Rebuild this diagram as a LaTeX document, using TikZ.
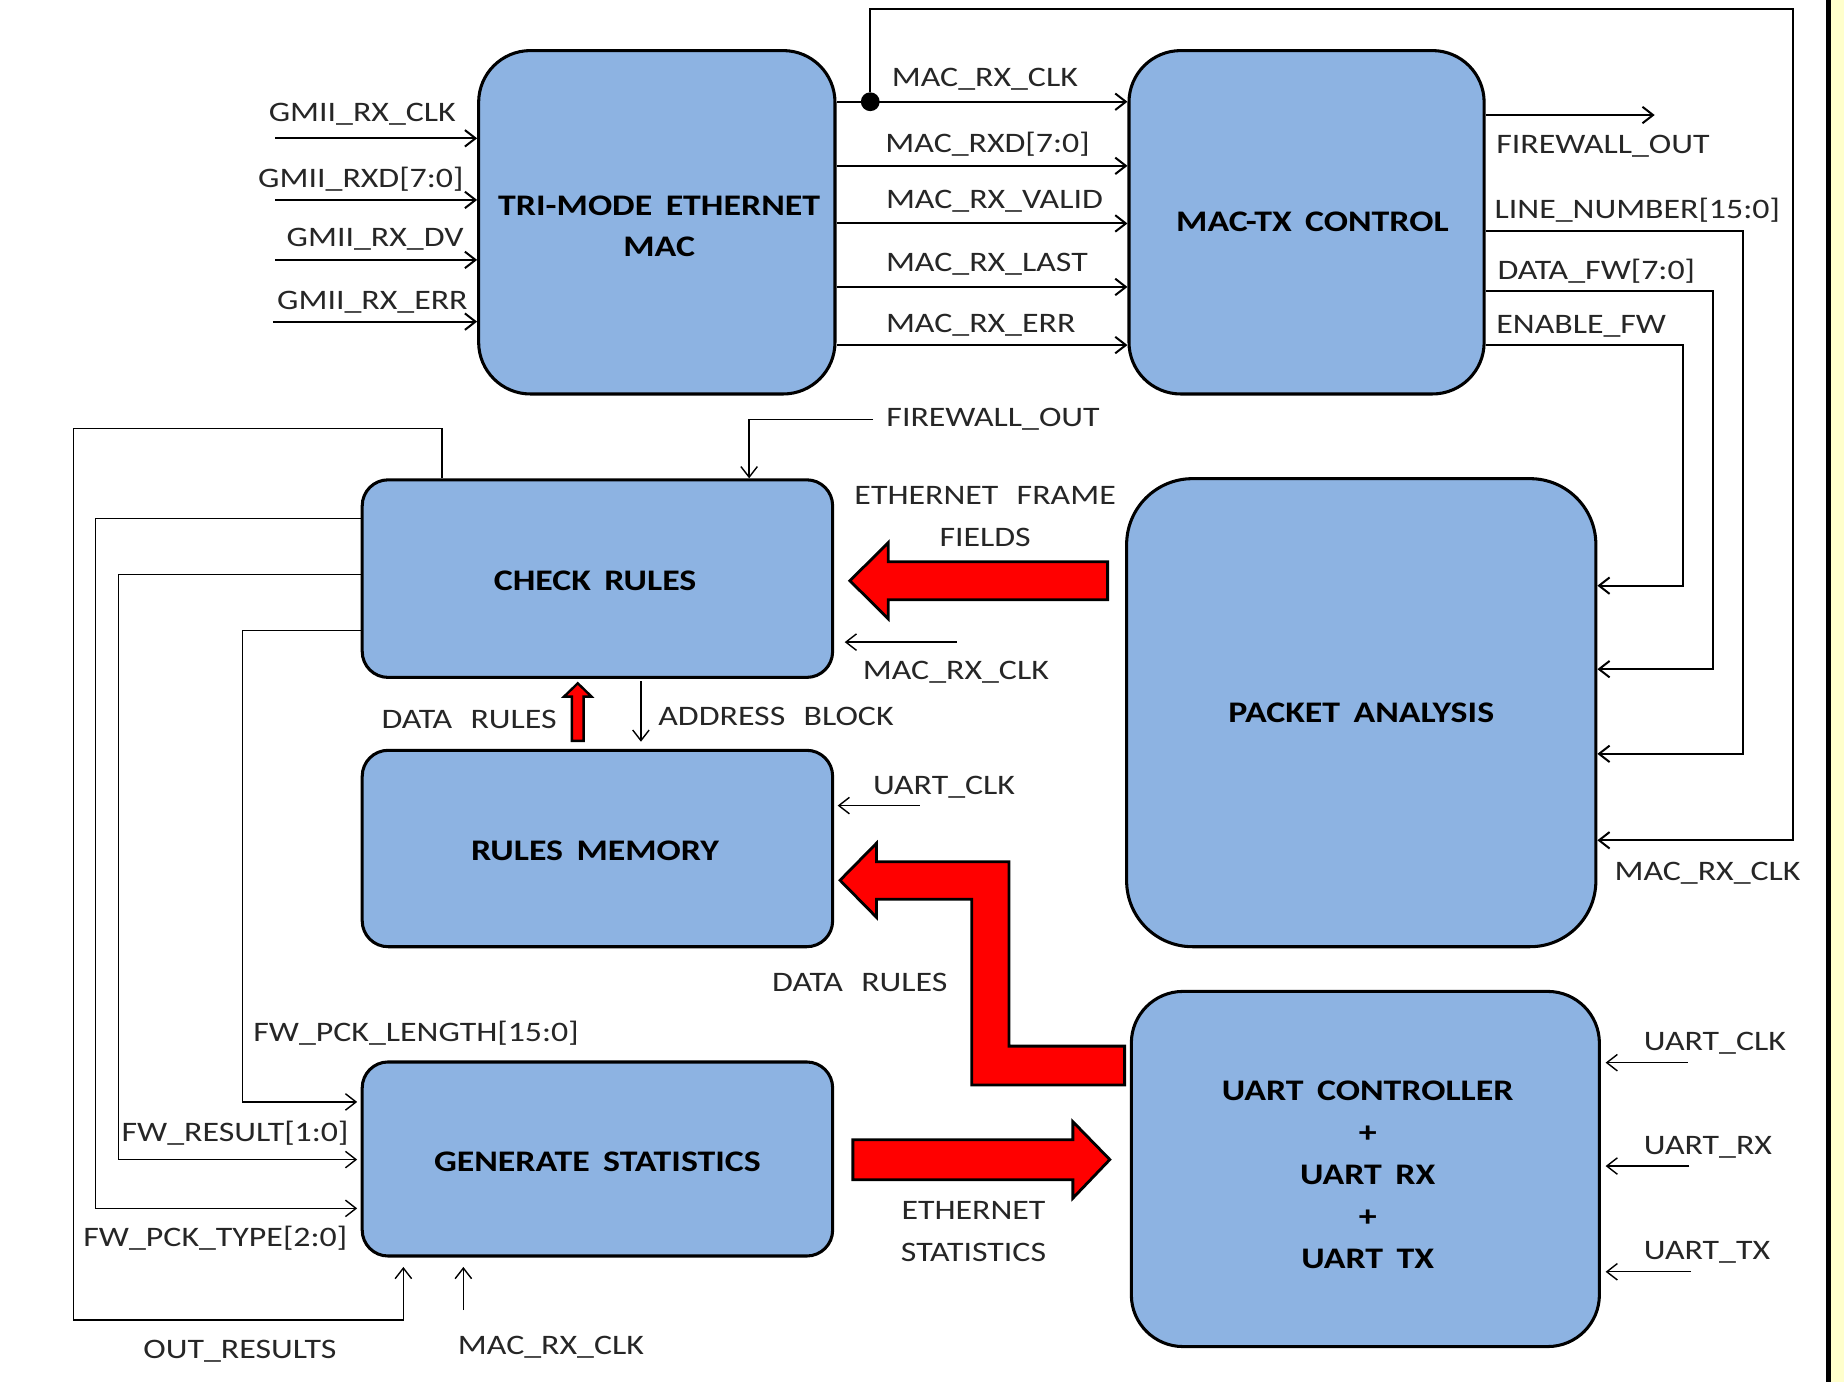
\documentclass[tikz,border=0pt]{standalone}
\usepackage{fontspec}
\setmainfont{Carlito}[FakeStretch=1.2]
\usetikzlibrary{arrows.meta,calc}
\definecolor{boxblue}{RGB}{141,179,226}
\definecolor{lbl}{RGB}{38,38,38}
\definecolor{ylw}{RGB}{255,255,204}
\newcommand\wsp{\hspace{0.45em}}
\newcommand\lsp{\hspace{0.65em}}
\begin{document}
\begin{tikzpicture}[x=0.5pt,y=-0.5pt,
  blk/.style={draw=black, line width=1.3pt, fill=boxblue, inner sep=0pt},
  btxt/.style={font=\fontsize{12.7}{17.6}\selectfont\bfseries, align=center, inner sep=0pt},
  lab/.style={font=\fontsize{12}{14}\selectfont, text=lbl, inner sep=0pt},
  sig/.style={line width=0.85pt, -{Straight Barb[length=4.5pt,width=7pt]}},
  thin/.style={line width=0.6pt, -{Straight Barb[length=4.5pt,width=7pt]}},
  bigarr/.style={fill=red, draw=black, line width=1.2pt, line join=miter},
  jdot/.style={circle, fill=black, inner sep=0pt, minimum size=8pt}
]
\useasboundingbox (0,0) rectangle (1568,1175);
\fill[white] (0,0) rectangle (1568,1175);
\fill[ylw] (1557,0) rectangle (1568,1175);
\fill[black] (1552.7,0) rectangle (1557,1175);

% ---------- blocks ----------
\node[blk, minimum width=151.5pt, minimum height=146pt, rounded corners=22pt] (tri) at (558.5,189) {};
\node[btxt] (triT) at ([yshift=-1.8pt,xshift=1pt]tri.center) {TRI-MODE\wsp ETHERNET\\MAC};
\node[blk, minimum width=151pt, minimum height=146pt, rounded corners=22pt] (mactx) at (1111,189) {};
\node[btxt] (mactxT) at ([xshift=2.5pt]mactx.center) {MAC-TX\wsp CONTROL};
\node[blk, minimum width=200pt, minimum height=84pt, rounded corners=11pt] (check) at (508,492) {};
\node[btxt] (checkT) at ([yshift=-1pt,xshift=-1pt]check.center) {CHECK\wsp RULES};
\node[blk, minimum width=200pt, minimum height=83.5pt, rounded corners=11pt] (rmem) at (508,721.5) {};
\node[btxt] (rmemT) at ([yshift=-1pt,xshift=-1pt]rmem.center) {RULES\wsp MEMORY};
\node[blk, minimum width=200pt, minimum height=82.5pt, rounded corners=11pt] (gstat) at (508,985.5) {};
\node[btxt] (gstatT) at ([yshift=-1pt]gstat.center) {GENERATE\wsp STATISTICS};
\node[blk, minimum width=199.5pt, minimum height=199pt, rounded corners=28pt] (pkt) at (1157.5,606) {};
\node[btxt] (pktT) at (pkt.center) {PACKET\wsp ANALYSIS};
\node[blk, minimum width=199pt, minimum height=151pt, rounded corners=22pt] (uart) at (1161,994) {};
\node[btxt, font=\fontsize{12.7}{17.85}\selectfont\bfseries] (uartT) at ([yshift=-2.6pt,xshift=1pt]uart.center) {UART\wsp CONTROLLER\\+\\UART\wsp RX\\+\\UART\wsp TX};

% ---------- GMII inputs ----------
\coordinate (gin1) at (234,117.6);
\coordinate (gin2) at (234,170);
\coordinate (gin3) at (234,221);
\coordinate (gin4) at (232,273.5);
\draw[sig] (gin1) -- (tri.west |- gin1);
\draw[sig] (gin2) -- (tri.west |- gin2);
\draw[sig] (gin3) -- (tri.west |- gin3);
\draw[sig] (gin4) -- (tri.west |- gin4);
\node[lab, anchor=base east] (lg1) at (388,103.5) {GMII\_RX\_CLK};
\node[lab, anchor=base east] (lg2) at (394.5,159) {GMII\_RXD[7:0]};
\node[lab, anchor=base east] (lg3) at (394.5,210) {GMII\_RX\_DV};
\node[lab, anchor=base east] (lg4) at (398,263) {GMII\_RX\_ERR};

% ---------- MAC -> MAC-TX ----------
\node[jdot] (jn) at (740,86.5) {};
\draw[sig] (tri.east |- jn) -- (mactx.west |- jn);
\draw[sig] (tri.east |- 0,141) -- (mactx.west |- 0,141);
\draw[sig] (tri.east |- 0,190) -- (mactx.west |- 0,190);
\draw[sig] (tri.east |- 0,244) -- (mactx.west |- 0,244);
\draw[sig] (tri.east |- 0,293.4) -- (mactx.west |- 0,293.4);
\node[lab, anchor=base west] (lm1) at (758,73.5) {MAC\_RX\_CLK};
\node[lab, anchor=base west] (lm2) at (752.5,130) {MAC\_RXD[7:0]};
\node[lab, anchor=base west] (lm3) at (753,177) {MAC\_RX\_VALID};
\node[lab, anchor=base west] (lm4) at (753,231) {MAC\_RX\_LAST};
\node[lab, anchor=base west] (lm5) at (753,283) {MAC\_RX\_ERR};

% clock loop to packet analysis
\draw[sig] (jn) |- (1524.5,8) |- (pkt.east |- 0,714.5);
\node[lab, anchor=base west] (lpclk) at (1372.5,748.5) {MAC\_RX\_CLK};

% ---------- MAC-TX outputs ----------
\coordinate (fwo) at (1407,97.8);
\draw[sig] (mactx.east |- fwo) -- (fwo);
\draw[sig] (mactx.east |- 0,196) -| (1482.5,641) -- (pkt.east |- 0,641);
\draw[sig] (mactx.east |- 0,247.5) -| (1456.5,569) -- (pkt.east |- 0,569);
\draw[sig] (mactx.east |- 0,293.4) -| (1431,498) -- (pkt.east |- 0,498);
\node[lab, anchor=base west] (lr1) at (1272,130.4) {FIREWALL\_OUT};
\node[lab, anchor=base west] (lr2) at (1270.5,185.7) {LINE\_NUMBER[15:0]};
\node[lab, anchor=base west] (lr3) at (1273,238) {DATA\_FW[7:0]};
\node[lab, anchor=base west] (lr4) at (1272,283.4) {ENABLE\_FW};

% ---------- check rules ----------
\node[lab, anchor=base west] (lfw2) at (753.4,363) {FIREWALL\_OUT};
\draw[thin] ([xshift=-5.5pt]lfw2.west) -| (check.north -| 637,0);
\draw[thin] (check.north -| 376,0) |- (62.4,364.5) |- (343,1122.4) -- ([yshift=-4pt]gstat.south -| 343,0);
\draw[thin, shorten >=1.5pt] (check.west |- 0,441) -| (81,1027.5) -- (gstat.west |- 0,1027.5);
\draw[thin, shorten >=1.5pt] (check.west |- 0,488.5) -| (101,986) -- (gstat.west |- 0,986);
\draw[thin, shorten >=1.5pt] (check.west |- 0,536) -| (206,937) -- (gstat.west |- 0,937);

\coordinate (efTip) at ([xshift=6.7pt]check.east |- 0,493.8);
\draw[bigarr] (efTip) -- ++(32.6,-32.4) -- ++(0,16.2) -- ++(186.5,0) -- ++(0,32.4) -- ++(-186.5,0) -- ++(0,16.2) -- cycle;
\node[lab, anchor=base] (lef1) at (837.7,428.6) {ETHERNET\lsp FRAME};
\node[lab, anchor=base] (lef2) at (837.7,464.5) {FIELDS};

\coordinate (cclk) at (813.5,546);
\draw[thin, shorten >=4.5pt] (cclk) -- (check.east |- cclk);
\node[lab, anchor=base] (lcclk) at (812.8,578) {MAC\_RX\_CLK};

% data rules up / address block down
\coordinate (drTip) at ([yshift=-1.85pt]check.south -| 491.3,0);
\draw[bigarr, line width=1pt] (drTip) -- ++(11.7,11.3) -- ++(-6.7,0) -- ++(0,37.7) -- ++(-10,0) -- ++(0,-37.7) -- ++(-6.7,0) -- cycle;
\node[lab, anchor=base east] (ldr1) at (473.8,619.4) {DATA\lsp RULES};
\draw[thin, shorten <=1pt, shorten >=3pt] (check.south -| 545,0) -- (rmem.north -| 545,0);
\node[lab, anchor=base west] (lab1) at (559.4,616.6) {ADDRESS\lsp BLOCK};

% ---------- rules memory ----------
\coordinate (rclk) at (782,685);
\draw[thin, shorten >=1.5pt] (rclk) -- (rmem.east |- rclk);
\node[lab, anchor=base west] (lrclk) at (742,675.4) {UART\_CLK};

\coordinate (dlTip) at ([xshift=2.5pt]rmem.east |- 0,748.5);
\draw[bigarr] (dlTip) -- ++(31,-31.5) -- ++(0,15.7) -- ++(112.6,0) -- ++(0,156.8) -- ++(98.4,0) -- ++(0,33.1) -- ++(-130,0) -- ++(0,-157.9) -- ++(-81,0) -- ++(0,15.3) -- cycle;
\node[lab, anchor=base east] (ldr2) at (806,843) {DATA\lsp RULES};

% ---------- generate statistics ----------
\node[lab, anchor=base west] (lgs1) at (215,885.8) {FW\_PCK\_LENGTH[15:0]};
\node[lab, anchor=base west] (lgs2) at (103,971) {FW\_RESULT[1:0]};
\node[lab, anchor=base west] (lgs3) at (70.5,1060) {FW\_PCK\_TYPE[2:0]};
\node[lab, anchor=base] (lgs4) at (204,1155) {OUT\_RESULTS};
\coordinate (gclk) at (394,1114);
\draw[thin, shorten >=4pt] (gclk) -- (gstat.south -| gclk);
\node[lab, anchor=base] (lgs5) at (468.5,1152) {MAC\_RX\_CLK};

\coordinate (esTip) at ([xshift=-8.5pt]uart.west |- 0,986);
\draw[bigarr] (esTip) -- ++(-31.4,-32.2) -- ++(0,15.4) -- ++(-187.1,0) -- ++(0,34) -- ++(187.1,0) -- ++(0,15.6) -- cycle;
\node[lab, anchor=base] (les1) at (827.8,1037) {ETHERNET};
\node[lab, anchor=base] (les2) at (827.8,1073) {STATISTICS};

% ---------- uart ----------
\coordinate (u1) at (1435,903.6);
\coordinate (u2) at (1436.6,991.5);
\coordinate (u3) at (1438,1081.4);
\draw[thin, shorten >=2pt] (u1) -- (uart.east |- u1);
\draw[thin, shorten >=2pt] (u2) -- (uart.east |- u2);
\draw[thin, shorten >=2pt] (u3) -- (uart.east |- u3);
\node[lab, anchor=base west] (lu1) at (1397.5,893) {UART\_CLK};
\node[lab, anchor=base west] (lu2) at (1397.5,982) {UART\_RX};
\node[lab, anchor=base west] (lu3) at (1397.5,1071) {UART\_TX};
\end{tikzpicture}
\end{document}
